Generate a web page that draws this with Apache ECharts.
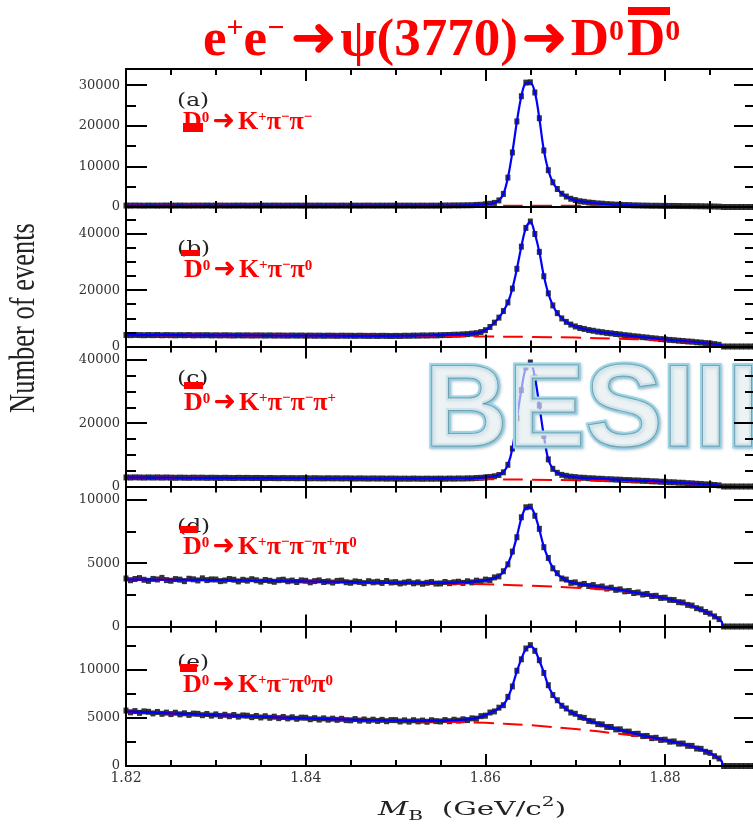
<!DOCTYPE html>
<html>
<head>
<meta charset="utf-8">
<script src="https://cdn.jsdelivr.net/npm/echarts@6/dist/echarts.min.js"></script>
<style>
  html, body { margin: 0; padding: 0; background: #ffffff; }
  #chart { width: 753px; height: 825px; }
</style>
</head>
<body>
<div id="chart"></div>
<script>
// Beam-constrained mass bins (GeV/c^2), 0.5 MeV wide
const massBins = [
  1.8200, 1.8205, 1.8210, 1.8215, 1.8220, 1.8225, 1.8230, 1.8235, 1.8240, 1.8245,
  1.8250, 1.8255, 1.8260, 1.8265, 1.8270, 1.8275, 1.8280, 1.8285, 1.8290, 1.8295,
  1.8300, 1.8305, 1.8310, 1.8315, 1.8320, 1.8325, 1.8330, 1.8335, 1.8340, 1.8345,
  1.8350, 1.8355, 1.8360, 1.8365, 1.8370, 1.8375, 1.8380, 1.8385, 1.8390, 1.8395,
  1.8400, 1.8405, 1.8410, 1.8415, 1.8420, 1.8425, 1.8430, 1.8435, 1.8440, 1.8445,
  1.8450, 1.8455, 1.8460, 1.8465, 1.8470, 1.8475, 1.8480, 1.8485, 1.8490, 1.8495,
  1.8500, 1.8505, 1.8510, 1.8515, 1.8520, 1.8525, 1.8530, 1.8535, 1.8540, 1.8545,
  1.8550, 1.8555, 1.8560, 1.8565, 1.8570, 1.8575, 1.8580, 1.8585, 1.8590, 1.8595,
  1.8600, 1.8605, 1.8610, 1.8615, 1.8620, 1.8625, 1.8630, 1.8635, 1.8640, 1.8645,
  1.8650, 1.8655, 1.8660, 1.8665, 1.8670, 1.8675, 1.8680, 1.8685, 1.8690, 1.8695,
  1.8700, 1.8705, 1.8710, 1.8715, 1.8720, 1.8725, 1.8730, 1.8735, 1.8740, 1.8745,
  1.8750, 1.8755, 1.8760, 1.8765, 1.8770, 1.8775, 1.8780, 1.8785, 1.8790, 1.8795,
  1.8800, 1.8805, 1.8810, 1.8815, 1.8820, 1.8825, 1.8830, 1.8835, 1.8840, 1.8845,
  1.8850, 1.8855, 1.8860, 1.8865, 1.8870, 1.8875, 1.8880, 1.8885, 1.8890, 1.8895,
  1.8900
];

// Points where the fit curves are sampled (dense under the peak)
const fitBins = [
  1.820, 1.825, 1.830, 1.835, 1.840, 1.845, 1.850, 1.852, 1.854, 1.856, 1.857,
  1.8580, 1.8585, 1.8590, 1.8595, 1.8600, 1.8605, 1.8610, 1.8615, 1.8620, 1.8625,
  1.8630, 1.8635, 1.8640, 1.8645, 1.8650, 1.8655, 1.8660, 1.8665, 1.8670, 1.8675,
  1.8680, 1.8685, 1.8690, 1.8695, 1.8700, 1.8705, 1.8710, 1.8715, 1.8720, 1.8725,
  1.8730, 1.8735, 1.8740, 1.8745, 1.8750, 1.8755, 1.8760,
  1.877, 1.878, 1.879, 1.880, 1.881, 1.882, 1.883, 1.884, 1.885, 1.8855, 1.886, 1.8863, 1.8865, 1.890
];

// Points where the background shapes are sampled
const bkgBins = [
  1.820, 1.825, 1.830, 1.835, 1.840, 1.845, 1.850, 1.855, 1.860, 1.865, 1.870,
  1.875, 1.878, 1.880, 1.882, 1.884, 1.885, 1.8855, 1.886, 1.8863, 1.8865, 1.890
];

// (a) D0 -> K+ pi- pi-
const countsA = [
  352, 338, 361, 347, 329, 356, 344, 335, 349, 362,
  331, 340, 355, 342, 327, 350, 346, 338, 359, 333,
  341, 352, 336, 329, 347, 344, 358, 331, 339, 350,
  326, 345, 337, 351, 340, 329, 343, 335, 348, 322,
  338, 344, 330, 352, 327, 336, 341, 325, 347, 333,
  329, 340, 318, 336, 345, 322, 331, 338, 327, 342,
  320, 334, 329, 343, 317, 330, 336, 324, 339, 328,
  352, 371, 365, 394, 388, 412, 426, 441, 512, 548,
  662, 791, 1012, 1628, 3215, 7240, 13430, 21080, 27290, 30650,
  30720, 28210, 21870, 13920, 9060, 6080, 4430, 3270, 2580, 2030,
  1710, 1430, 1290, 1110, 1010, 880, 820, 710, 660, 580,
  545, 480, 462, 402, 388, 350, 338, 305, 310, 282,
  270, 258, 262, 240, 231, 226, 214, 198, 180, 166,
  142, 118, 84, 0, 0, 0, 0, 0, 0, 0,
  0
];
const fitA = [
  350, 345, 340, 335, 330, 326, 322, 325, 338, 362, 385,
  420, 450, 500, 560, 650, 780, 1000, 1600, 3200, 7200,
  13500, 21000, 27300, 30500, 30600, 28300, 21800, 14000, 9000, 6100,
  4400, 3300, 2550, 2050, 1700, 1450, 1270, 1120, 1000, 900,
  800, 720, 650, 590, 540, 490, 450,
  380, 330, 300, 270, 250, 225, 200, 170, 140, 115, 85, 60, 0, 0
];
const bkgA = [350, 345, 340, 335, 330, 325, 320, 315, 310, 300, 290, 270, 250, 235, 210, 170, 140, 115, 85, 60, 0, 0];

// (b) D0 -> K+ pi- pi0
const countsB = [
  4085, 4031, 4102, 4047, 3998, 4066, 4021, 4079, 3987, 4054,
  4012, 3964, 4037, 3991, 4058, 3942, 4003, 3976, 4021, 3930,
  3978, 3921, 3987, 3940, 3902, 3965, 3913, 3958, 3887, 3931,
  3926, 3878, 3940, 3861, 3912, 3874, 3843, 3905, 3857, 3889,
  3834, 3871, 3812, 3858, 3796, 3849, 3823, 3781, 3837, 3802,
  3815, 3768, 3826, 3779, 3752, 3803, 3741, 3794, 3763, 3728,
  3771, 3742, 3818, 3795, 3869, 3848, 3921, 3887, 3962, 3934,
  4012, 4061, 4083, 4172, 4189, 4315, 4392, 4571, 4738, 5124,
  5790, 6930, 8460, 10250, 12580, 15640, 20550, 27560, 35430, 42080,
  44350, 39920, 33580, 24930, 18860, 14570, 11840, 9960, 8730, 7790,
  7120, 6570, 6230, 5830, 5580, 5270, 5080, 4820, 4670, 4430,
  4270, 4030, 3880, 3650, 3520, 3310, 3170, 2960, 2830, 2630,
  2520, 2340, 2230, 2060, 1960, 1800, 1700, 1510, 1390, 1210,
  1070, 850, 610, 0, 0, 0, 0, 0, 0, 0,
  0
];
const fitB = [
  4060, 4008, 3956, 3904, 3852, 3800, 3760, 3850, 3950, 4100, 4200,
  4400, 4550, 4750, 5100, 5800, 6900, 8500, 10200, 12600, 15600,
  20600, 27500, 35500, 42000, 44300, 40000, 33500, 25000, 18800, 14600,
  11800, 10000, 8700, 7800, 7100, 6600, 6200, 5850, 5550, 5300,
  5050, 4850, 4650, 4450, 4250, 4050, 3850,
  3500, 3150, 2800, 2500, 2200, 1950, 1680, 1380, 1060, 860, 600, 400, 0, 0
];
const bkgB = [4060, 4008, 3956, 3904, 3852, 3800, 3750, 3660, 3550, 3400, 3150, 2750, 2450, 2200, 1850, 1350, 1050, 850, 600, 400, 0, 0];

// (c) D0 -> K+ pi- pi- pi+
const countsC = [
  2872, 2831, 2889, 2846, 2815, 2868, 2824, 2859, 2803, 2847,
  2795, 2752, 2810, 2771, 2739, 2798, 2757, 2783, 2726, 2764,
  2742, 2698, 2751, 2709, 2683, 2737, 2694, 2722, 2671, 2705,
  2684, 2632, 2679, 2648, 2617, 2669, 2626, 2655, 2602, 2641,
  2618, 2574, 2623, 2581, 2559, 2607, 2563, 2592, 2540, 2577,
  2557, 2513, 2561, 2524, 2496, 2545, 2503, 2531, 2479, 2516,
  2492, 2451, 2486, 2447, 2503, 2462, 2438, 2481, 2449, 2474,
  2488, 2451, 2512, 2479, 2537, 2506, 2571, 2583, 2672, 2738,
  2861, 3017, 3228, 3640, 4480, 6850, 11960, 21540, 30420, 37600,
  39150, 34420, 25580, 15940, 8560, 5580, 4330, 3680, 3370, 3090,
  2970, 2795, 2741, 2612, 2573, 2451, 2418, 2306, 2283, 2185,
  2152, 2038, 2021, 1917, 1896, 1792, 1768, 1651, 1622, 1503,
  1468, 1352, 1321, 1204, 1172, 1041, 997, 868, 806, 680,
  612, 478, 352, 0, 0, 0, 0, 0, 0, 0,
  0
];
const fitC = [
  2850, 2780, 2720, 2660, 2600, 2540, 2475, 2480, 2470, 2490, 2520,
  2550, 2600, 2650, 2750, 2850, 3000, 3250, 3600, 4500, 6800,
  12000, 21500, 30500, 37500, 39000, 34500, 25500, 16000, 8500, 5600,
  4300, 3700, 3350, 3100, 2950, 2820, 2720, 2630, 2550, 2470,
  2400, 2330, 2260, 2200, 2130, 2060, 2000,
  1880, 1750, 1600, 1450, 1300, 1150, 980, 790, 600, 490, 340, 220, 0, 0
];
const bkgC = [2850, 2780, 2720, 2660, 2600, 2540, 2470, 2390, 2290, 2150, 1960, 1700, 1490, 1320, 1080, 770, 590, 480, 340, 215, 0, 0];

// (d) D0 -> K+ pi- pi- pi+ pi0
const countsD = [
  3790, 3652, 3748, 3821, 3689, 3604, 3757, 3712, 3836, 3663,
  3611, 3742, 3698, 3580, 3769, 3724, 3635, 3801, 3662, 3716,
  3708, 3579, 3633, 3746, 3692, 3561, 3687, 3619, 3734, 3648,
  3542, 3671, 3605, 3528, 3653, 3694, 3571, 3626, 3512, 3639,
  3607, 3489, 3582, 3641, 3513, 3566, 3470, 3598, 3624, 3497,
  3452, 3563, 3517, 3421, 3578, 3489, 3536, 3440, 3592, 3476,
  3503, 3398, 3467, 3529, 3412, 3486, 3373, 3451, 3508, 3389,
  3396, 3512, 3423, 3487, 3534, 3441, 3569, 3482, 3618, 3547,
  3702, 3661, 3874, 3958, 4362, 4903, 5912, 7046, 8620, 9410,
  9460, 8740, 7710, 6260, 5410, 4590, 4210, 3790, 3702, 3446,
  3481, 3297, 3362, 3198, 3271, 3104, 3158, 2997, 3064, 2893,
  2931, 2776, 2803, 2642, 2689, 2524, 2568, 2401, 2423, 2256,
  2271, 2102, 2089, 1921, 1893, 1706, 1651, 1447, 1352, 1146,
  1018, 794, 583, 0, 0, 0, 0, 0, 0, 0,
  0
];
const fitD = [
  3720, 3690, 3660, 3610, 3560, 3505, 3450, 3450, 3440, 3450, 3470,
  3500, 3530, 3560, 3600, 3650, 3720, 3820, 4000, 4300, 4950,
  5850, 7100, 8550, 9350, 9400, 8800, 7650, 6300, 5350, 4650,
  4150, 3850, 3650, 3500, 3420, 3350, 3300, 3250, 3200, 3150,
  3100, 3050, 3000, 2940, 2880, 2820, 2750,
  2630, 2510, 2370, 2230, 2050, 1860, 1620, 1330, 1000, 810, 570, 370, 0, 0
];
const bkgD = [3720, 3690, 3660, 3610, 3560, 3505, 3450, 3400, 3330, 3220, 3060, 2820, 2500, 2230, 1860, 1330, 1000, 810, 570, 370, 0, 0];

// (e) D0 -> K+ pi- pi0 pi0
const countsE = [
  5742, 5561, 5688, 5503, 5659, 5612, 5447, 5598, 5405, 5531,
  5378, 5519, 5352, 5461, 5290, 5427, 5403, 5262, 5389, 5216,
  5345, 5187, 5306, 5158, 5281, 5112, 5237, 5209, 5063, 5184,
  5029, 5156, 4991, 5108, 4957, 5074, 4930, 5046, 4889, 5011,
  4998, 4846, 4957, 4812, 4935, 4798, 4903, 4781, 4889, 4752,
  4731, 4862, 4704, 4819, 4685, 4798, 4669, 4781, 4642, 4756,
  4752, 4613, 4729, 4598, 4741, 4622, 4705, 4581, 4736, 4647,
  4612, 4758, 4643, 4791, 4702, 4836, 4757, 4934, 4902, 5163,
  5214, 5539, 5652, 6041, 6298, 7162, 8241, 9870, 11050, 12170,
  12520, 11930, 10960, 9640, 8370, 7350, 6810, 6240, 5960, 5540,
  5412, 5063, 4985, 4671, 4622, 4338, 4309, 4046, 4041, 3792,
  3801, 3558, 3563, 3321, 3339, 3098, 3112, 2884, 2921, 2701,
  2728, 2519, 2544, 2317, 2329, 2091, 2083, 1812, 1776, 1472,
  1361, 1012, 782, 0, 0, 0, 0, 0, 0, 0,
  0
];
const fitE = [
  5650, 5450, 5280, 5100, 4930, 4800, 4690, 4680, 4680, 4700, 4750,
  4820, 4880, 4970, 5100, 5270, 5480, 5700, 5970, 6350, 7100,
  8300, 9800, 11100, 12100, 12450, 12000, 10900, 9700, 8300, 7400,
  6750, 6300, 5900, 5600, 5350, 5120, 4920, 4730, 4560, 4400,
  4250, 4110, 3980, 3860, 3740, 3620, 3500,
  3270, 3050, 2860, 2670, 2480, 2270, 2020, 1720, 1320, 1060, 750, 480, 0, 0
];
const bkgE = [5650, 5450, 5280, 5100, 4930, 4800, 4690, 4590, 4470, 4220, 3830, 3320, 2950, 2650, 2250, 1680, 1300, 1050, 740, 480, 0, 0];

// Axis ranges and tick steps of the five panels
const yMax   = [34000, 49500, 44200, 11050, 14450];
const yMajor = [10000, 20000, 20000, 5000, 5000];
const yMinor = [5000, 5000, 5000, 2500, 2500];
const xMin = 1.82, xMax = 1.89, xMajor = 0.02, xMinor = 0.005;

const panelTags = ['(a)', '(b)', '(c)', '(d)', '(e)'];
const decayModes = [
  '{b|D}{z|0}{a|➜}{b|K}{p|+}{b|π}{p|−}{b|π}{p|−}',
  '{b|D}{z|0}{a|➜}{b|K}{p|+}{b|π}{p|−}{b|π}{z|0}',
  '{b|D}{z|0}{a|➜}{b|K}{p|+}{b|π}{p|−}{b|π}{p|−}{b|π}{p|+}',
  '{b|D}{z|0}{a|➜}{b|K}{p|+}{b|π}{p|−}{b|π}{p|−}{b|π}{p|+}{b|π}{z|0}',
  '{b|D}{z|0}{a|➜}{b|K}{p|+}{b|π}{p|−}{b|π}{z|0}{b|π}{z|0}'
];

const counts = [countsA, countsB, countsC, countsD, countsE];
const fits = [fitA, fitB, fitC, fitD, fitE];
const bkgs = [bkgA, bkgB, bkgC, bkgD, bkgE];

// Layout of the stacked panels
const panelTop = [69, 207, 346.5, 486.5, 626.5];
const panelHeight = [138, 139.5, 140, 140, 139.5];
const plotLeft = 126, plotWidth = 629;
const tagPos = [[177, 101], [177, 249], [177, 379], [177, 527], [177, 663]];
const modePos = [[183, 122], [184, 270], [184, 403], [183, 547], [183, 685]];
const barRects = [[183, 123, 20, 9], [181, 250, 19, 6], [184, 382, 19, 7], [180, 526, 18, 7], [180, 664, 17, 8]];

const RED = '#ff0000';
const black = '#000000';

const grids = [], xAxes = [], yAxes = [], series = [];

function tick(len) {
  return { show: true, inside: true, length: len, lineStyle: { color: black, width: 2 } };
}
const frameLine = { show: true, onZero: false, lineStyle: { color: black, width: 2 } };
const plainNumber = function (v) { return String(v); };

for (let i = 0; i < 5; i++) {
  grids.push({
    left: plotLeft, top: panelTop[i], width: plotWidth, height: panelHeight[i],
    containLabel: false, outerBoundsMode: 'none'
  });

  const xb = { gridIndex: i, type: 'value', min: xMin, max: xMax, z: 60, splitLine: { show: false }, axisLabel: { show: false } };
  xAxes.push(
    Object.assign({}, xb, {
      position: 'bottom', interval: xMajor, axisLine: frameLine, axisTick: tick(12),
      axisLabel: i === 4 ? {
        show: true, showMaxLabel: false, margin: 5, color: '#333',
        fontFamily: 'DejaVu Serif', fontSize: 14, formatter: plainNumber
      } : { show: false }
    }),
    Object.assign({}, xb, { position: 'bottom', interval: xMinor, axisLine: { show: false, onZero: false }, axisTick: tick(6) }),
    Object.assign({}, xb, { position: 'top', interval: xMajor, axisLine: frameLine, axisTick: tick(12) }),
    Object.assign({}, xb, { position: 'top', interval: xMinor, axisLine: { show: false, onZero: false }, axisTick: tick(6) })
  );

  const yb = { gridIndex: i, type: 'value', min: 0, max: yMax[i], z: 60, splitLine: { show: false }, axisLabel: { show: false } };
  yAxes.push(
    Object.assign({}, yb, {
      position: 'left', interval: yMajor[i], axisLine: frameLine, axisTick: tick(21),
      axisLabel: {
        show: true, showMaxLabel: false, margin: 6, color: '#333',
        fontFamily: 'DejaVu Serif', fontSize: 13, formatter: plainNumber
      }
    }),
    Object.assign({}, yb, { position: 'left', interval: yMinor[i], axisLine: { show: false, onZero: false }, axisTick: tick(10) }),
    Object.assign({}, yb, { position: 'right', interval: yMajor[i], axisLine: frameLine, axisTick: tick(21) }),
    Object.assign({}, yb, { position: 'right', interval: yMinor[i], axisLine: { show: false, onZero: false }, axisTick: tick(10) })
  );

  const ax = { xAxisIndex: i * 4, yAxisIndex: i * 4 };
  series.push(Object.assign({
    type: 'scatter', name: 'data' + i, symbol: 'rect', symbolSize: [5, 6],
    itemStyle: { color: black }, z: 2,
    data: massBins.map((m, j) => [m, counts[i][j]])
  }, ax));
  series.push(Object.assign({
    type: 'line', name: 'bkg' + i, showSymbol: false, smooth: 0.35, z: 3,
    lineStyle: { color: RED, width: 2, type: [20, 9] },
    data: bkgBins.map((m, j) => [m, bkgs[i][j]])
  }, ax));
  series.push(Object.assign({
    type: 'line', name: 'fit' + i, showSymbol: false, smooth: 0.35, z: 4,
    lineStyle: { color: '#0000ff', width: 2.2 },
    data: fitBins.map((m, j) => [m, fits[i][j]])
  }, ax));
}

// Text and decorations
const serifBold = { fontFamily: 'Liberation Serif', fontWeight: 'bold', fill: RED, verticalAlign: 'middle' };
const titleRich = {
  b: Object.assign({}, serifBold, { fontSize: 53 }),
  p: Object.assign({}, serifBold, { fontSize: 30, padding: [0, 0, 24, 0] }),
  q: Object.assign({}, serifBold, { fontSize: 30, padding: [0, 3, 24, 0] }),
  z: Object.assign({}, serifBold, { fontSize: 30, padding: [0, 0, 17, 0] }),
  a: { fontFamily: 'DejaVu Sans', fontWeight: 'bold', fontSize: 56, fill: RED, verticalAlign: 'middle', padding: [0, 3, 0, 3] }
};
const graphics = [];

graphics.push({
  type: 'text', x: 203, y: 41, z: 100,
  style: {
    text: '{b|e}{p|+}{b|e}{q|−}{a|➜}{b|ψ(3770)}{a|➜}{b|D}{z|0}',
    align: 'left', verticalAlign: 'middle', rich: titleRich
  }
});
// anti-D meson with its bar
graphics.push({
  type: 'text', x: 627, y: 41, z: 100,
  style: { text: '{b|D}{z|0}', align: 'left', verticalAlign: 'middle', rich: titleRich }
});
graphics.push({ type: 'rect', z: 101, shape: { x: 628, y: 7, width: 42, height: 8 }, style: { fill: RED } });

for (let i = 0; i < 5; i++) {
  graphics.push({
    type: 'text', x: tagPos[i][0], y: tagPos[i][1], scaleX: 1.3, z: 100,
    style: { text: panelTags[i], fontFamily: 'DejaVu Serif', fontSize: 18, fill: '#222', align: 'left', verticalAlign: 'middle' }
  });
  graphics.push({
    type: 'text', x: modePos[i][0], y: modePos[i][1], z: 100,
    style: {
      text: decayModes[i], align: 'left', verticalAlign: 'middle',
      rich: {
        b: Object.assign({}, serifBold, { fontSize: 26 }),
        p: Object.assign({}, serifBold, { fontSize: 15, padding: [0, 0, 10, 0] }),
        z: Object.assign({}, serifBold, { fontSize: 15, padding: [0, 0, 8, 0] }),
        a: { fontFamily: 'DejaVu Sans', fontWeight: 'bold', fontSize: 27, fill: RED, verticalAlign: 'middle', padding: [0, 3, 0, 3] }
      }
    }
  });
  const r = barRects[i];
  graphics.push({ type: 'rect', z: 101, shape: { x: r[0], y: r[1], width: r[2], height: r[3] }, style: { fill: RED } });
}

// Axis titles
graphics.push({
  type: 'text', x: 25, y: 318, rotation: Math.PI / 2, scaleY: 1.35, z: 100,
  style: { text: 'Number of events', fontFamily: 'Liberation Serif', fontSize: 26.5, fill: '#222', align: 'center', verticalAlign: 'middle' }
});
graphics.push({
  type: 'text', x: 378, y: 810, scaleX: 1.55, z: 100,
  style: {
    text: '{m|M}{s|B}{n|  (GeV/c}{u|2}{n|)}', align: 'left', verticalAlign: 'middle',
    rich: {
      m: { fontFamily: 'DejaVu Serif', fontStyle: 'italic', fontSize: 19, fill: '#222', verticalAlign: 'middle' },
      s: { fontFamily: 'DejaVu Serif', fontSize: 13, fill: '#222', verticalAlign: 'middle', padding: [14, 0, 0, 0] },
      n: { fontFamily: 'DejaVu Serif', fontSize: 19, fill: '#222', verticalAlign: 'middle' },
      u: { fontFamily: 'DejaVu Serif', fontSize: 13, fill: '#222', verticalAlign: 'middle', padding: [0, 0, 14, 0] }
    }
  }
});

// Experiment logo in panel (c): light outline with a thin darker inner edge
const logoText = { text: 'BESIII', fontFamily: 'Liberation Sans', fontWeight: 'bold', fontSize: 116, align: 'left', verticalAlign: 'middle' };
graphics.push({
  type: 'text', x: 424, y: 414, z: 50,
  style: Object.assign({}, logoText, {
    fill: 'rgba(250,253,254,0.6)', stroke: '#9bd5e8', lineWidth: 5,
    textShadowColor: 'rgba(0,60,90,0.25)', textShadowBlur: 3, textShadowOffsetX: 1, textShadowOffsetY: 1
  })
});
graphics.push({
  type: 'text', x: 424, y: 414, z: 51,
  style: Object.assign({}, logoText, { fill: 'rgba(0,0,0,0)', stroke: 'rgba(80,120,135,0.6)', lineWidth: 1 })
});

const chart = echarts.init(document.getElementById('chart'), null, { renderer: 'canvas' });
chart.setOption({
  animation: false,
  backgroundColor: '#ffffff',
  grid: grids,
  xAxis: xAxes,
  yAxis: yAxes,
  series: series,
  graphic: graphics
});
</script>
</body>
</html>
